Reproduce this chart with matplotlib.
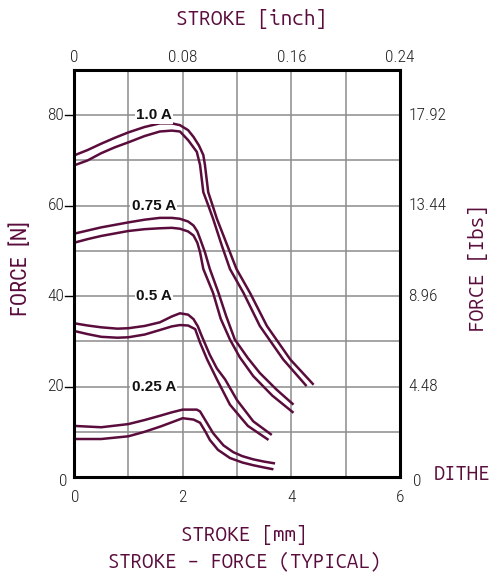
import matplotlib
matplotlib.use("Agg")
import matplotlib.pyplot as plt

# stroke [mm] / force [N] (two branches per current)
x_10_up = [0, 0.25, 0.5, 0.75, 1.0, 1.3, 1.58, 1.8, 1.95, 2.1, 2.2, 2.3, 2.38, 2.41, 2.44, 2.47,
           2.53, 2.63, 2.75, 2.87, 2.99, 3.24, 3.55, 3.98, 4.41]
y_10_up = [71.1, 72.3, 73.7, 75.0, 76.2, 77.4, 78.2, 78.2, 77.8, 76.7, 75.2, 73.3, 71.2, 69.0, 66.0, 63.0,
           60.8, 57.1, 53.4, 49.7, 46.0, 40.7, 33.4, 26.0, 20.4]
x_10_lo = [0, 0.25, 0.5, 0.75, 1.0, 1.3, 1.58, 1.8, 1.95, 2.1, 2.26, 2.32, 2.35, 2.38, 2.47, 2.56,
           2.72, 2.87, 3.12, 3.42, 3.85, 4.28]
y_10_lo = [68.9, 70.0, 71.6, 72.9, 74.0, 75.4, 76.4, 76.6, 76.4, 74.5, 71.9, 69.0, 66.0, 63.0, 60.1, 57.1,
           51.2, 46.0, 40.7, 33.4, 26.0, 20.1]

x_75_up = [0, 0.25, 0.5, 1.0, 1.3, 1.58, 1.8, 1.95, 2.1, 2.2, 2.27, 2.32, 2.41, 2.5, 2.66, 2.8, 2.96,
           3.2, 3.42, 3.73, 4.04]
y_75_up = [53.8, 54.5, 55.2, 56.3, 56.9, 57.3, 57.3, 57.1, 56.5, 55.6, 54.3, 52.7, 49.7, 46.0, 40.7, 35.6, 30.4,
           26.3, 23.0, 19.3, 16.0]
x_75_lo = [0, 0.25, 0.5, 1.0, 1.3, 1.58, 1.8, 1.95, 2.1, 2.2, 2.27, 2.32, 2.38, 2.56, 2.7, 2.87, 3.05,
           3.3, 3.65, 4.04]
y_75_lo = [51.8, 52.6, 53.3, 54.4, 54.8, 55.0, 55.1, 54.9, 54.3, 53.4, 51.8, 49.7, 46.0, 40.7, 35.0, 30.4, 26.5,
           22.3, 18.0, 14.2]

x_50_up = [0, 0.25, 0.5, 0.8, 1.0, 1.3, 1.58, 1.8, 1.95, 2.1, 2.2, 2.28, 2.35, 2.5, 2.63, 2.78, 3.0,
           3.3, 3.64]
y_50_up = [34.0, 33.5, 33.1, 32.8, 32.9, 33.4, 34.2, 35.5, 36.2, 35.9, 34.9, 33.3, 31.2, 27.0, 24.0, 21.6, 17.0,
           12.3, 9.3]
x_50_lo = [0, 0.25, 0.5, 0.8, 1.0, 1.3, 1.58, 1.8, 1.95, 2.1, 2.23, 2.32, 2.45, 2.63, 2.87, 3.2, 3.58]
y_50_lo = [32.3, 31.6, 31.0, 30.8, 30.9, 31.5, 32.5, 33.3, 33.6, 33.5, 32.7, 29.7, 26.0, 21.6, 16.0, 11.3, 8.2]

x_25_up = [0, 0.5, 1.0, 1.3, 1.6, 1.8, 2.0, 2.26, 2.32, 2.42, 2.56, 2.75, 2.93, 3.1, 3.3, 3.5, 3.7]
y_25_up = [11.3, 11.0, 11.7, 12.6, 13.6, 14.3, 14.9, 14.9, 14.5, 12.5, 9.7, 7.0, 5.5, 4.6, 3.9, 3.4, 3.0]
x_25_lo = [0, 0.5, 1.0, 1.3, 1.6, 1.8, 2.0, 2.2, 2.32, 2.42, 2.5, 2.65, 2.87, 3.1, 3.3, 3.5, 3.67]
y_25_lo = [8.4, 8.4, 9.0, 10.0, 11.2, 12.1, 13.0, 12.7, 12.0, 10.0, 8.2, 6.0, 4.2, 3.2, 2.6, 2.1, 1.7]

currents = ["1.0 A", "0.75 A", "0.5 A", "0.25 A"]
label_y = [80, 60, 40, 20]

x_ticks_mm = [0, 2, 4, 6]
x_ticks_inch = ["0", "0.08", "0.16", "0.24"]
y_ticks_n = [0, 20, 40, 60, 80]
y_ticks_lbs = ["0", "4.48", "8.96", "13.44", "17.92"]

MAROON = "#5a0d3c"
COND = ["Roboto Condensed", "DejaVu Sans"]
MONO = ["Ubuntu Mono", "DejaVu Sans Mono"]

fig = plt.figure(figsize=(4.92, 5.77), dpi=100)
ax = fig.add_axes([74/492, 1-477/577, 326/492, 407/577])
ax.set_xlim(0, 6)
ax.set_ylim(0, 90)

ax.set_xticks(range(7))
ax.set_yticks(range(0, 91, 10))
ax.grid(True, color="#8c8c8c", lw=1.1)
ax.set_axisbelow(True)
ax.tick_params(length=0, labelbottom=False, labelleft=False)
for s in ax.spines.values():
    s.set_linewidth(2.2)
    s.set_color("black")

curves = [(x_10_up, y_10_up), (x_10_lo, y_10_lo), (x_75_up, y_75_up), (x_75_lo, y_75_lo),
          (x_50_up, y_50_up), (x_50_lo, y_50_lo), (x_25_up, y_25_up), (x_25_lo, y_25_lo)]
for xs, ys in curves:
    ax.plot(xs, ys, color=MAROON, lw=1.8, solid_joinstyle="round", solid_capstyle="butt")

for lab, yv in zip(currents, label_y):
    ax.text(1.47, yv, lab, ha="center", va="center", fontsize=11, fontweight="bold",
            family=["Liberation Sans", "DejaVu Sans"], color="#111111",
            bbox=dict(facecolor="white", edgecolor="none", pad=1.0))

# tick labels
tfont = dict(family=COND, fontweight="light", fontsize=12.5, color="#222222")
for xv in x_ticks_mm:
    ax.annotate(str(xv), (xv, 0), xytext=(0.5 if xv == 0 else 0, -9.5), textcoords="offset points",
                ha="center", va="top", **tfont)
for xv, lab in zip(x_ticks_mm, x_ticks_inch):
    ax.annotate(lab, (xv, 90), xytext=(0, 3.5), textcoords="offset points",
                ha="center", va="bottom", **tfont)
for yv in y_ticks_n:
    ax.annotate(str(yv), (0, yv), xytext=(-7 if yv else -4.5, 0 if yv else -3), textcoords="offset points",
                ha="right", va="center", **tfont)
    if yv:
        ax.plot([-0.166, 0], [yv, yv], color="black", lw=1.0, clip_on=False)
for yv, lab in zip(y_ticks_n, y_ticks_lbs):
    ax.annotate(lab, (6, yv), xytext=(9.5 if yv == 0 else 6, -3 if yv == 0 else 0), textcoords="offset points",
                ha="left", va="center", **tfont)

fig.text(252/492, 1-19/577, "STROKE [inch]", ha="center", va="center",
         family=MONO, fontweight="bold", fontsize=15, color=MAROON)
fig.text(244/492, 1-535/577, "STROKE [mm]", ha="center", va="center",
         family=MONO, fontweight="bold", fontsize=14.8, color=MAROON)
fig.text(244/492, 1-562/577, "STROKE \u2013 FORCE (TYPICAL)", ha="center", va="center",
         family=MONO, fontweight="bold", fontsize=14.6, color=MAROON)
fig.text(21/492, 1-269/577, "FORCE  [N]", ha="center", va="center", rotation=90,
         family=COND, fontsize=16, color=MAROON)
fig.text(478/492, 1-268/577, "FORCE [Ibs]", ha="center", va="center", rotation=90,
         family=MONO, fontweight="bold", fontsize=15, color=MAROON)
fig.text(434/492, 1-474/577, "DITHE", ha="left", va="center",
         family=MONO, fontweight="bold", fontsize=14.5, color=MAROON)

fig.savefig("out.png", dpi=100)
